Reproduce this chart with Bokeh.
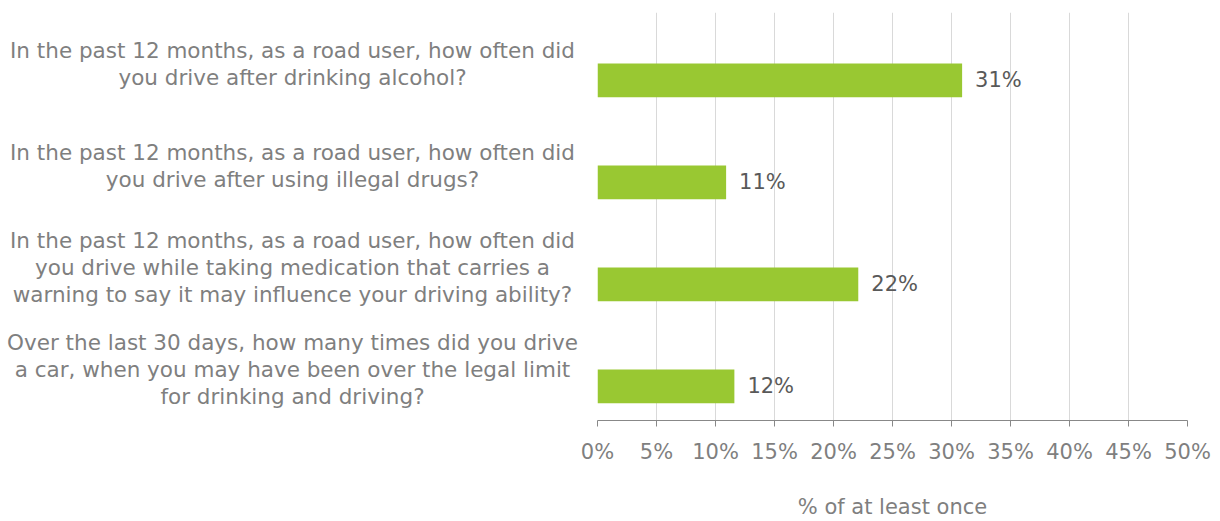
from bokeh.plotting import figure
from bokeh.layouts import row
from bokeh.models import ColumnDataSource, FixedTicker, Range1d, FactorRange
from bokeh.transform import dodge
from bokeh.core.properties import value
from bokeh.embed import file_html
from bokeh.resources import INLINE

# ---- data ----
questions = [
    "In the past 12 months, as a road user, how often did\nyou drive after drinking alcohol?",
    "In the past 12 months, as a road user, how often did\nyou drive after using illegal drugs?",
    "In the past 12 months, as a road user, how often did\nyou drive while taking medication that carries a\nwarning to say it may influence your driving ability?",
    "Over the last 30 days, how many times did you drive\na car, when you may have been over the legal limit\nfor drinking and driving?",
]
percent = [30.9, 10.9, 22.1, 11.6]
value_labels = ["31%", "11%", "22%", "12%"]
tick_values = [0, 5, 10, 15, 20, 25, 30, 35, 40, 45, 50]
tick_labels = ["0%", "5%", "10%", "15%", "20%", "25%", "30%", "35%", "40%", "45%", "50%"]
axis_title = "% of at least once"

FONT = "DejaVu Sans"
FS = "21px"
LABEL_GREY = "#7f7f7f"
BAR_GREEN = "#99C832"

src = ColumnDataSource(dict(q=questions, pct=percent, lab=value_labels))
y_range = FactorRange(factors=list(reversed(questions)), range_padding=0)

LEFT_W = 578
TOTAL_W = 1220
H = 521

# ---- left figure: category labels ----
left = figure(width=LEFT_W, height=H, x_range=Range1d(0, LEFT_W), y_range=y_range,
              x_axis_location=None, y_axis_location=None,
              toolbar_location=None, output_backend="svg",
              min_border_left=0, min_border_right=0, min_border_top=12, min_border_bottom=98,
              outline_line_color=None)
left.grid.visible = False
left.text(x=292, y="q", text="q", source=src,
          text_align="center", text_baseline="middle",
          text_font=value(FONT), text_font_size="21.5px", text_color=LABEL_GREY,
          text_line_height=1.08)

# ---- right figure: bars ----
p = figure(width=TOTAL_W - LEFT_W, height=H, x_range=Range1d(0, 50), y_range=y_range,
           y_axis_location=None, toolbar_location=None, output_backend="svg",
           min_border_left=19, min_border_right=33, min_border_top=12, min_border_bottom=98,
           outline_line_color=None)

p.hbar(y=dodge("q", -0.165, range=y_range), left=0, right="pct", height=0.33,
       source=src, fill_color=BAR_GREEN, line_color=None)
p.text(x="pct", y=dodge("q", -0.165, range=y_range), text="lab", source=src,
       x_offset=13, text_align="left", text_baseline="middle",
       text_font=value(FONT), text_font_size=FS, text_color="#595959")

p.xgrid.grid_line_color = "#d9d9d9"
p.xgrid.grid_line_width = 1
p.ygrid.visible = False

ax = p.xaxis[0]
ax.ticker = FixedTicker(ticks=tick_values)
ax.major_label_overrides = {t: l for t, l in zip(tick_values, tick_labels)}
ax.major_label_text_font = FONT
ax.major_label_text_font_size = FS
ax.major_label_text_color = LABEL_GREY
ax.major_label_standoff = 13
ax.axis_line_color = "#888888"
ax.axis_line_width = 1
ax.major_tick_line_color = "#888888"
ax.major_tick_out = 6
ax.major_tick_in = 0
ax.minor_tick_line_color = None
ax.axis_label = axis_title
ax.axis_label_text_font = FONT
ax.axis_label_text_font_size = FS
ax.axis_label_text_font_style = "normal"
ax.axis_label_text_color = LABEL_GREY
ax.axis_label_standoff = 28

layout = row(left, p, spacing=0)
open("out.html", "w").write(file_html(layout, INLINE))
